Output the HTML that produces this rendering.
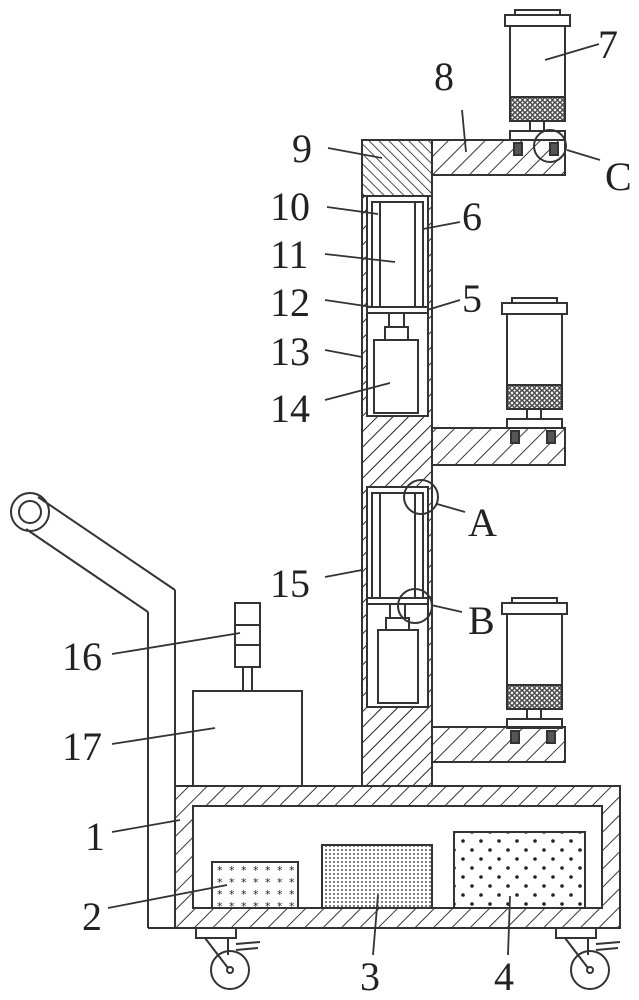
<!DOCTYPE html>
<html><head><meta charset="utf-8"><style>
html,body{margin:0;padding:0;background:#fff;}
svg{display:block}
text{font-family:"Liberation Serif","Noto Serif CJK SC",serif;font-size:40px;fill:#222}
</style></head><body>
<svg width="639" height="1000" viewBox="0 0 639 1000" xmlns="http://www.w3.org/2000/svg">
<defs>
<pattern id="h1" width="11" height="11" patternUnits="userSpaceOnUse" patternTransform="rotate(45)">
<line x1="0" y1="0" x2="0" y2="11" stroke="#222" stroke-width="2"/></pattern>
<pattern id="h2" width="13" height="13" patternUnits="userSpaceOnUse" patternTransform="rotate(45)">
<line x1="0" y1="0" x2="0" y2="13" stroke="#222" stroke-width="1.8"/></pattern>
<pattern id="h3" width="7" height="7" patternUnits="userSpaceOnUse" patternTransform="rotate(-45)">
<line x1="0" y1="0" x2="0" y2="7" stroke="#222" stroke-width="1.6"/></pattern>
<pattern id="mesh" width="5" height="5" patternUnits="userSpaceOnUse"><circle cx="2.5" cy="2.5" r="1.8" fill="none" stroke="#222" stroke-width="1.2"/></pattern>
<pattern id="d1" width="12" height="12" patternUnits="userSpaceOnUse"><text x="1" y="10" style="font-size:11px;font-family:'DejaVu Sans'">*</text></pattern>
<pattern id="d2" width="4" height="4" patternUnits="userSpaceOnUse"><circle cx="2" cy="2" r="0.9" fill="#222"/></pattern>
<pattern id="d3" width="18" height="18" patternUnits="userSpaceOnUse"><circle cx="4" cy="4" r="1.8" fill="#222"/><circle cx="13" cy="13" r="1.8" fill="#222"/></pattern>
</defs>
<g stroke="#333" stroke-width="2" fill="none">
<circle cx="30" cy="512" r="19"/><circle cx="30" cy="512" r="11"/>
<line x1="38" y1="497" x2="175" y2="590"/><line x1="26" y1="529" x2="148" y2="612"/>
<line x1="175" y1="590" x2="175" y2="928"/><line x1="148" y1="612" x2="148" y2="928"/>
<line x1="148" y1="928" x2="175" y2="928"/>
<path d="M175 786H620V928H175Z M193 806V908H602V806Z" fill="url(#h2)" fill-rule="evenodd"/>
<rect x="212" y="862" width="86" height="46" fill="url(#d1)"/>
<rect x="322" y="845" width="110" height="63" fill="url(#d2)"/>
<rect x="454" y="832" width="131" height="76" fill="url(#d3)"/>
<rect x="196" y="928" width="40" height="10"/><path d="M205 938 L228 968 M228 938 V955 M236 944 L260 942 M236 950 L258 948"/>
<circle cx="230" cy="970" r="19"/><circle cx="230" cy="970" r="3"/>
<rect x="556" y="928" width="40" height="10"/><path d="M565 938 L588 968 M588 938 V955 M596 944 L620 942 M596 950 L618 948"/>
<circle cx="590" cy="970" r="19"/><circle cx="590" cy="970" r="3"/>
<rect x="193" y="691" width="109" height="95"/>
<rect x="243" y="667" width="9" height="24"/>
<rect x="235" y="603" width="25" height="64"/><line x1="235" y1="625" x2="260" y2="625"/><line x1="235" y1="645" x2="260" y2="645"/>
<rect x="362" y="140" width="70" height="646" fill="url(#h1)"/>
<rect x="362" y="140" width="70" height="56" fill="#fff"/>
<rect x="362" y="140" width="70" height="56" fill="url(#h3)"/>
<rect x="367" y="196" width="61" height="220" fill="#fff"/>
<rect x="367" y="196" width="61" height="220"/>
<rect x="372" y="202" width="51" height="105"/><line x1="380" y1="202" x2="380" y2="307"/><line x1="415" y1="202" x2="415" y2="307"/>
<rect x="367" y="307" width="61" height="6"/>
<rect x="389" y="313" width="15" height="14"/><rect x="385" y="327" width="23" height="13"/>
<rect x="374" y="340" width="44" height="73"/>
<rect x="367" y="487" width="61" height="220" fill="#fff"/>
<rect x="367" y="487" width="61" height="220"/>
<rect x="372" y="493" width="51" height="105"/><line x1="380" y1="493" x2="380" y2="598"/><line x1="415" y1="493" x2="415" y2="598"/>
<rect x="367" y="598" width="61" height="6"/>
<rect x="390" y="604" width="15" height="14"/><rect x="386" y="618" width="23" height="12"/>
<rect x="378" y="630" width="40" height="73"/>
<rect x="432" y="140" width="133" height="35" fill="url(#h2)"/>
<rect x="432" y="428" width="133" height="37" fill="url(#h2)"/>
<rect x="432" y="727" width="133" height="35" fill="url(#h2)"/>
<g id="f">
<rect x="515" y="10" width="45" height="5"/><rect x="505" y="15" width="65" height="11"/>
<rect x="510" y="26" width="55" height="71"/><rect x="510" y="97" width="55" height="24" fill="url(#mesh)"/>
<rect x="530" y="121" width="14" height="10"/><rect x="510" y="131" width="55" height="9"/>
<rect x="514" y="143" width="8" height="12" fill="#555"/><rect x="550" y="143" width="8" height="12" fill="#555"/>
</g>
<use href="#f" transform="translate(-3,288)"/>
<use href="#f" transform="translate(-3,588)"/>
<circle cx="550" cy="146" r="16"/><circle cx="421" cy="497" r="17"/><circle cx="415" cy="606" r="17"/>
<g stroke-width="1.8">
<path d="M599 44 L545 60"/><path d="M462 110 L466 152"/><path d="M328 148 L382 158"/>
<path d="M327 207 L378 214"/><path d="M460 222 L423 229"/><path d="M325 254 L395 262"/>
<path d="M325 300 L372 307"/><path d="M460 300 L427 310"/><path d="M325 350 L362 357"/>
<path d="M325 400 L390 383"/><path d="M567 150 L600 160"/><path d="M437 504 L465 512"/>
<path d="M325 577 L362 570"/><path d="M431 605 L462 612"/><path d="M112 654 L240 633"/>
<path d="M112 744 L215 728"/><path d="M112 832 L180 820"/><path d="M108 908 L227 885"/>
<path d="M373 955 L378 895"/><path d="M508 955 L510 896"/>
</g>
</g>
<text x="598" y="58">7</text><text x="434" y="90">8</text><text x="292" y="162">9</text>
<text x="270" y="220">10</text><text x="462" y="230">6</text><text x="270" y="268">11</text>
<text x="270" y="316">12</text><text x="462" y="312">5</text><text x="270" y="365">13</text>
<text x="270" y="422">14</text><text x="605" y="190">C</text><text x="468" y="536">A</text>
<text x="270" y="597">15</text><text x="468" y="634">B</text><text x="62" y="670">16</text>
<text x="62" y="760">17</text><text x="85" y="850">1</text><text x="82" y="930">2</text>
<text x="360" y="990">3</text><text x="494" y="990">4</text>
</svg>
</body></html>
